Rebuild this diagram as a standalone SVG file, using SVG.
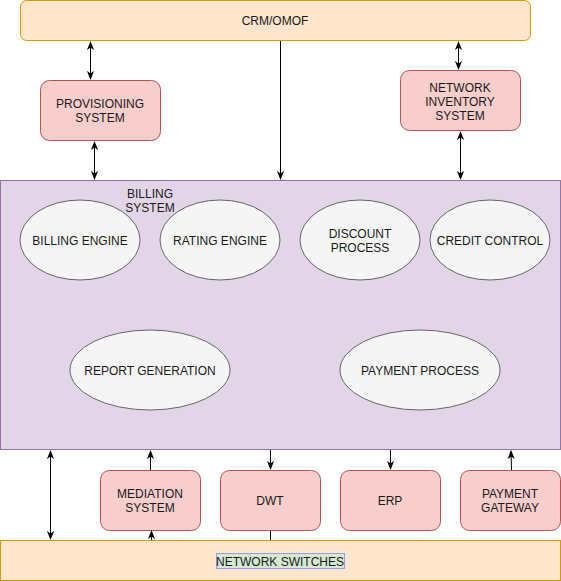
<svg xmlns="http://www.w3.org/2000/svg" width="561" height="581" viewBox="0 0 561 581">
<defs>
<style>
text{font-family:"Liberation Sans",Arial,Helvetica,sans-serif;font-size:12px;fill:#1a1a1a;text-anchor:middle}
.box{fill:#f8cecc;stroke:#b85450;stroke-width:1}
.org{fill:#ffe6cc;stroke:#d79b00;stroke-width:1}
.ell{fill:#f5f5f5;stroke:#666666;stroke-width:1}
.ln{stroke:#000;stroke-width:1;fill:none}
</style>
<marker id="ah" viewBox="0 0 10 10" refX="9" refY="5" markerWidth="9" markerHeight="9" orient="auto-start-reverse" markerUnits="userSpaceOnUse">
<path d="M0,1 L10,5 L0,9 L3,5 Z" fill="#000"/>
</marker>
</defs>
<g id="crm"><rect class="org" x="20.5" y="0.5" width="510" height="40" rx="6"/><text x="275" y="25">CRM/OMOF</text></g>
<g id="billing"><rect x="0.5" y="180.5" width="560" height="269" fill="#e1d5e7" stroke="#9673a6"/><text x="150" y="198">BILLING</text><text x="150" y="212">SYSTEM</text></g>
<g id="prov"><rect class="box" x="40.5" y="80.5" width="120" height="60" rx="9"/><text x="100" y="108">PROVISIONING</text><text x="100" y="122">SYSTEM</text></g>
<g id="netinv"><rect class="box" x="400.5" y="70.5" width="120" height="60" rx="9"/><text x="460" y="92">NETWORK</text><text x="460" y="106">INVENTORY</text><text x="460" y="120">SYSTEM</text></g>
<g id="beng"><ellipse class="ell" cx="80" cy="240" rx="60" ry="40"/><text x="80" y="245">BILLING ENGINE</text></g>
<g id="reng"><ellipse class="ell" cx="220" cy="240" rx="60" ry="40"/><text x="220" y="245">RATING ENGINE</text></g>
<g id="disc"><ellipse class="ell" cx="360" cy="240" rx="60" ry="40"/><text x="360" y="238">DISCOUNT</text><text x="360" y="252">PROCESS</text></g>
<g id="cred"><ellipse class="ell" cx="490" cy="240" rx="60" ry="40"/><text x="490" y="245">CREDIT CONTROL</text></g>
<g id="rep"><ellipse class="ell" cx="150" cy="370" rx="80" ry="40"/><text x="150" y="375">REPORT GENERATION</text></g>
<g id="pay"><ellipse class="ell" cx="420" cy="370" rx="80" ry="40"/><text x="420" y="375">PAYMENT PROCESS</text></g>
<g id="med"><rect class="box" x="100.5" y="470.5" width="100" height="60" rx="9"/><text x="150" y="498">MEDIATION</text><text x="150" y="512">SYSTEM</text></g>
<g id="dwt"><rect class="box" x="220.5" y="470.5" width="100" height="60" rx="9"/><text x="270" y="505">DWT</text></g>
<g id="erp"><rect class="box" x="340.5" y="470.5" width="100" height="60" rx="9"/><text x="390" y="505">ERP</text></g>
<g id="pgw"><rect class="box" x="460.5" y="470.5" width="100" height="60" rx="9"/><text x="510" y="498">PAYMENT</text><text x="510" y="512">GATEWAY</text></g>
<g id="switches"><rect class="org" x="0.5" y="540.5" width="560" height="40"/><rect x="216.5" y="553.5" width="128" height="15" fill="#d5e8d4" stroke="#9999ff"/><text x="280" y="565.5">NETWORK SWITCHES</text></g>
<g id="connectors">
<line class="ln" x1="90.5" y1="42" x2="90.5" y2="79" marker-start="url(#ah)" marker-end="url(#ah)"/>
<line class="ln" x1="94.5" y1="142" x2="94.5" y2="179" marker-start="url(#ah)" marker-end="url(#ah)"/>
<line class="ln" x1="280.5" y1="41" x2="280.5" y2="179" marker-end="url(#ah)"/>
<line class="ln" x1="458.5" y1="42" x2="458.5" y2="69" marker-start="url(#ah)" marker-end="url(#ah)"/>
<line class="ln" x1="460.5" y1="132" x2="460.5" y2="179" marker-start="url(#ah)" marker-end="url(#ah)"/>
<line class="ln" x1="50.5" y1="451" x2="50.5" y2="539" marker-start="url(#ah)" marker-end="url(#ah)"/>
<line class="ln" x1="150.5" y1="470" x2="150.5" y2="451" marker-end="url(#ah)"/>
<line class="ln" x1="151.5" y1="540" x2="151.5" y2="531" marker-end="url(#ah)"/>
<line class="ln" x1="270.5" y1="450" x2="270.5" y2="469" marker-end="url(#ah)"/>
<line class="ln" x1="270.5" y1="531" x2="270.5" y2="540"/>
<line class="ln" x1="390.5" y1="450" x2="390.5" y2="469" marker-end="url(#ah)"/>
<line class="ln" x1="511.5" y1="470" x2="511" y2="451" marker-end="url(#ah)"/>
</g>
</svg>
